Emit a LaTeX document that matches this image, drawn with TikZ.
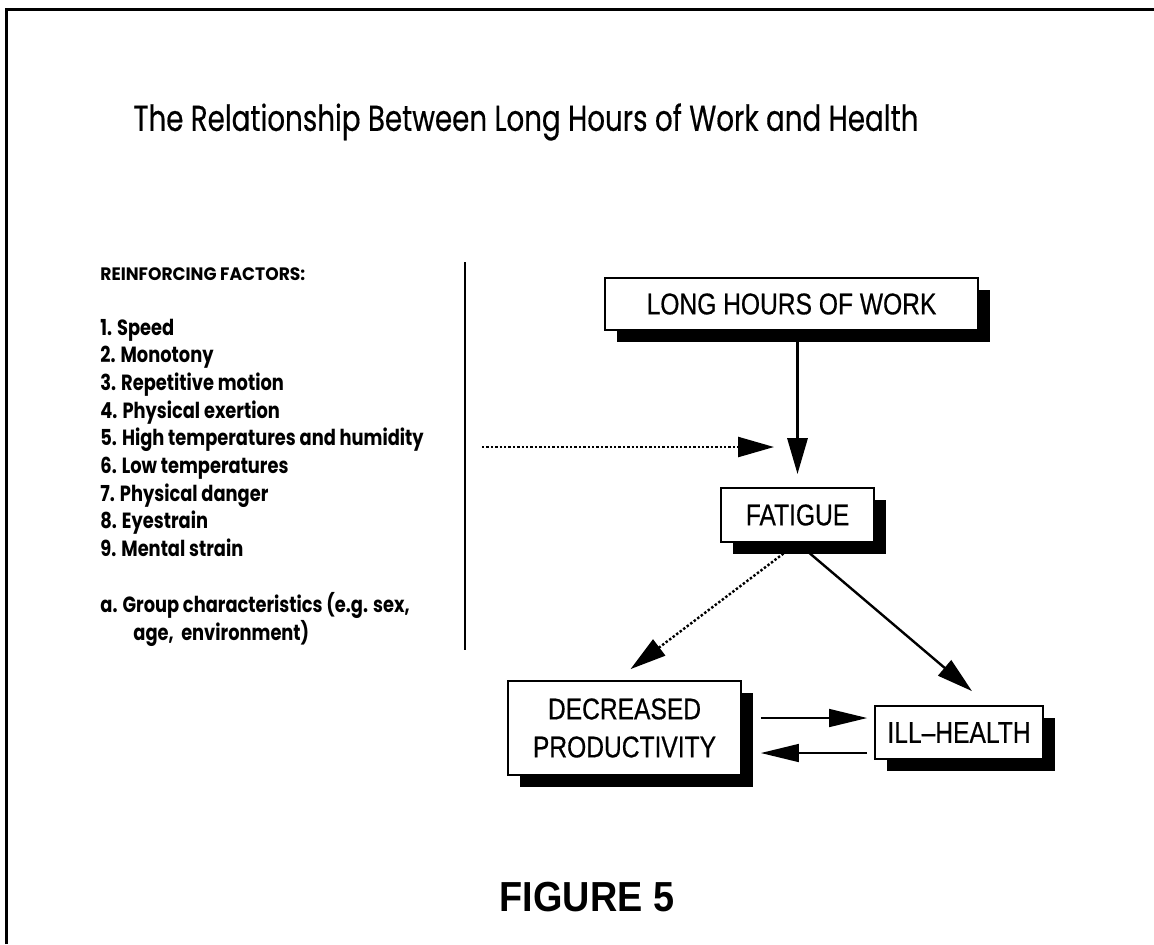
\documentclass[tikz,border=0pt]{standalone}
\usepackage{fontspec}
\setmainfont{Liberation Sans}
\newfontfamily\titlefont[FakeStretch=0.77,FakeBold=0.4]{Poppins}
\newfontfamily\listfont[FakeStretch=0.81]{Poppins}
\newfontfamily\headfont[FakeStretch=0.95]{Poppins}
\newfontfamily\boxfont[FakeStretch=0.82,FakeBold=0.5]{Liberation Sans}
\newfontfamily\figfont[FakeStretch=0.9]{Liberation Sans}
\usepackage{tikz}
\usetikzlibrary{arrows.meta,positioning,shadows,calc}

\begin{document}
\begin{tikzpicture}[
  x=0.5pt,y=-0.5pt,
  stage/.style={draw,line width=0.9pt,fill=white,align=center,inner sep=0pt,
    font=\boxfont\fontsize{15}{19}\selectfont,
    drop shadow={shadow xshift=6pt,shadow yshift=-6pt,fill=black,opacity=1}},
  factor/.style={anchor=base west,inner sep=0pt,
    font=\listfont\bfseries\fontsize{11}{14}\selectfont},
  arrow/.style={-{Triangle[length=18pt,width=10pt]},line width=1.6pt},
  feed/.style={-{Triangle[length=19pt,width=9pt]},line width=0.8pt}
]
\useasboundingbox (0,0) rectangle (1154,944);
\draw[line width=1.5pt] (6,944) -- (6,9) -- (1154,9);

\node[font=\titlefont\fontsize{18}{22}\selectfont] (title) at (526,122)
  {The Relationship Between Long Hours of Work and Health};

% reinforcing factors
\node[factor,font=\headfont\bfseries\fontsize{9}{11}\selectfont] (rfhead) at (100,280) {REINFORCING FACTORS:};
\foreach \txt [count=\i] in {Speed,Monotony,Repetitive motion,Physical exertion,
    High temperatures and humidity,Low temperatures,Physical danger,Eyestrain,Mental strain}
  \node[factor] (rf\i) at (100,307.3+27.7*\i) {\i. \txt};
\node[factor] (rfgroup) at (100,612) {a. Group characteristics (e.g. sex,};
\node[factor] (rfgroup2) at (133,640) {age,\ \ environment)};
\draw[line width=1.2pt] (465,262) -- (465,650);

% chain
\node[stage,minimum width=186.5pt,minimum height=26pt] (hours) at (791.5,304) {LONG HOURS OF WORK};
\node[stage,minimum width=76.5pt,minimum height=27pt] (fatigue) at (797.5,515) {FATIGUE};
\node[stage,minimum width=116.5pt,minimum height=47pt] (prod) at (624.5,728) {DECREASED\\PRODUCTIVITY};
\node[stage,minimum width=84pt,minimum height=26.5pt] (ill) at (959,732.5) {ILL–HEALTH};

\coordinate (cue) at (482,447);
\coordinate (cuetip) at (774,447);

\draw[arrow,shorten >=6.5pt] (hours.south -| fatigue.north) -- (fatigue.north);
\draw[arrow,line width=1.2pt,densely dotted] (cue) -- (cuetip);
\draw[arrow,line width=1.2pt,densely dotted] (fatigue.south) -- ([xshift=3pt,yshift=5.5pt]prod.north);
\draw[arrow,line width=1.2pt] (fatigue.south) -- ([xshift=6.5pt,yshift=7pt]ill.north);
\draw[feed,shorten >=3.5pt] ([xshift=9.5pt,yshift=5pt]prod.east) -- ([yshift=5pt]prod.east -| ill.west);
\draw[feed,shorten <=3.5pt] ([yshift=-12.5pt]prod.east -| ill.west) -- ([xshift=9.5pt,yshift=-12.5pt]prod.east);

\node[font=\figfont\bfseries\fontsize{21}{24}\selectfont] (fig) at (587,897) {FIGURE 5};
\end{tikzpicture}
\end{document}
